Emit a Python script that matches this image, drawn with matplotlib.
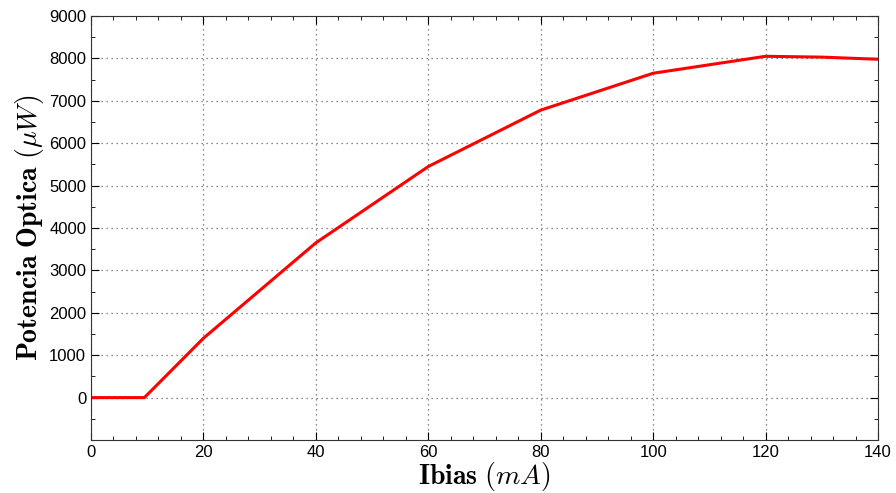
import numpy as np
import matplotlib
matplotlib.use('Agg')
import matplotlib.pyplot as plt
from matplotlib.ticker import MultipleLocator

# corriente de polarizacion (mA) y potencia optica (uW)
ibias = [0, 9.5, 20, 40, 60, 80, 100, 120, 130, 140]
potencia = [0, 0, 1400, 3650, 5450, 6780, 7650, 8050, 8030, 7980]

plt.rcParams['mathtext.fontset'] = 'cm'
plt.rcParams['font.family'] = 'Liberation Sans'

fig = plt.figure(figsize=(8.96, 4.93), dpi=100)
ax = fig.add_axes([91/896, 1 - 440/493, 787/896, 424/493])

ax.plot(ibias, potencia, color='#ff0000', linewidth=2.2)

ax.set_xlim(0, 140)
ax.set_ylim(-1000, 9000)
ax.set_xticks(np.arange(0, 141, 20))
ax.set_yticks(np.arange(0, 9001, 1000))
ax.xaxis.set_minor_locator(MultipleLocator(4))
ax.yaxis.set_minor_locator(MultipleLocator(500))
ax.tick_params(which='both', direction='in', top=True, right=True, labelsize=12)
ax.tick_params(which='major', length=6)
ax.tick_params(which='minor', length=3)
ax.grid(True, which='major', linestyle=(0, (1, 3)), color='#666666', linewidth=0.9)

ax.set_xlabel(r'$\mathbf{Ibias}\ (mA)$', fontsize=20, labelpad=0)
ax.set_ylabel(r'$\mathbf{Potencia\ Optica}\ (\mu W)$', fontsize=20, labelpad=2)

for s in ax.spines.values():
    s.set_color('#333333')

fig.savefig('out.png', dpi=100)
